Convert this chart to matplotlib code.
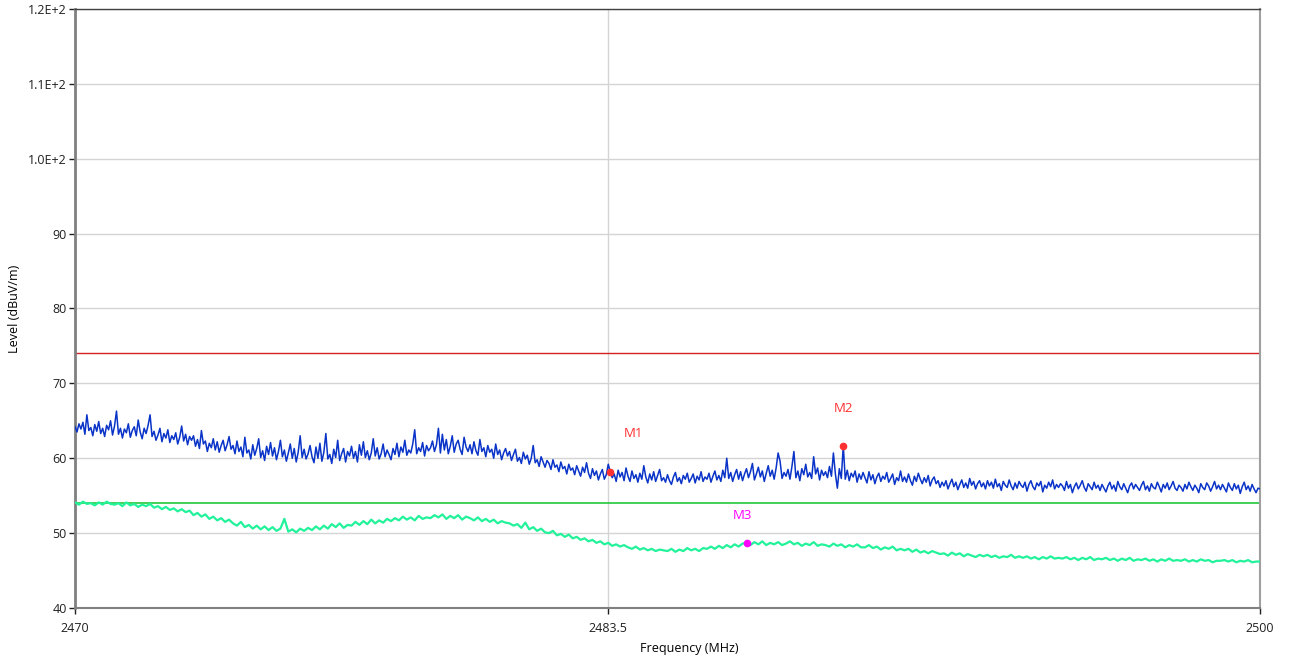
import numpy as np
import matplotlib as mpl
import matplotlib.pyplot as plt

mpl.use("Agg")

# peak trace, 0.05 MHz steps from 2470 to 2500 MHz (one row per MHz)
peak_level = [
    64.2, 63.5, 64.6, 63.9, 64.8, 63.2, 65.8, 63.7, 64.1, 63.0, 64.5, 63.6, 64.9, 63.3, 64.0, 62.9, 64.4, 63.8, 65.0, 63.1,
    64.3, 66.3, 63.2, 64.0, 62.7, 63.9, 63.4, 64.6, 62.8, 63.7, 64.2, 63.0, 65.1, 63.5, 62.6, 64.0, 63.3, 64.4, 65.8, 62.9,
    63.6, 62.4, 63.1, 64.0, 62.2, 63.3, 62.7, 63.8, 62.1, 63.0, 62.5, 63.4, 61.9, 62.8, 64.3, 62.3, 63.2, 61.8, 62.9, 62.4,
    63.0, 61.6, 62.5, 61.3, 63.7, 61.9, 62.3, 60.9, 62.0, 61.4, 62.6, 61.1, 62.2, 60.8, 61.7, 62.4, 61.0, 61.8, 62.9, 61.2,
    61.7, 60.6, 62.3, 60.9, 61.5, 60.2, 62.8, 60.7, 61.1, 59.9, 61.8, 60.4, 61.3, 62.6, 60.1, 61.0, 59.7, 61.6, 60.5, 62.1,
    60.3, 61.4, 59.8, 60.9, 62.4, 60.2, 61.1, 59.6, 60.7, 61.9, 60.0, 61.3, 59.5, 60.8, 63.0, 60.1, 61.2, 59.9, 60.6, 61.7,
    60.2, 59.4, 61.5, 60.0, 62.0, 59.6, 60.8, 63.3, 59.9, 60.5, 59.3, 61.2, 60.1, 62.4, 59.7, 60.6, 61.3, 59.5, 60.9, 60.3,
    61.6, 60.0, 60.9, 59.5, 61.8, 60.4, 62.2, 60.1, 61.0, 59.8, 60.7, 62.6, 60.3, 61.4, 59.9, 60.6, 61.9, 60.2, 61.1, 60.5,
    59.8, 61.3, 60.5, 62.0, 60.2, 61.5, 60.8, 62.4, 60.4, 61.1, 60.7, 61.9, 63.8, 60.6, 61.4, 60.9, 62.1, 60.3, 61.7, 61.0,
    61.4, 62.3, 60.9, 61.8, 64.0, 60.7, 63.2, 61.1, 62.5, 60.6, 61.6, 63.0, 60.8, 61.9, 62.4, 61.2, 60.5, 62.8, 61.5, 60.9,
    61.8, 60.6, 62.2, 61.0, 60.4, 62.5, 60.9, 61.4, 60.2, 61.7, 60.8, 61.2, 60.0, 61.9, 60.5, 61.1, 59.8, 60.7, 61.3, 60.3,
    60.9, 59.7, 60.5, 61.2, 59.6, 60.1, 59.3, 60.8, 59.9, 60.4, 59.2, 60.0, 61.7, 59.4, 59.8, 58.9, 60.2, 59.5, 58.8, 59.7,
    59.3, 58.5, 59.8, 58.8, 59.1, 58.2, 59.5, 58.6, 58.9, 57.9, 59.2, 58.4, 58.7, 57.8, 59.0, 58.3, 57.6, 58.8, 58.1, 59.4,
    58.0, 57.3, 58.6, 57.7, 58.3, 57.1, 57.9, 58.5, 57.2, 57.8, 59.2, 58.2, 57.4, 57.9, 56.9, 58.4, 57.5, 58.1, 57.0, 58.7,
    57.6, 56.9, 58.3, 57.3, 57.8, 56.8, 58.0, 57.2, 59.0, 57.5, 56.7, 57.9, 57.1, 58.2, 56.9, 57.7, 58.5, 57.0, 57.4, 56.8,
    57.8, 57.0, 56.5, 57.5, 58.1, 56.9, 57.4, 56.6, 57.7, 57.2, 58.0, 56.8, 57.3, 57.9, 56.7, 57.6, 57.1, 58.2, 56.9, 57.5,
    57.2, 58.0, 56.8, 57.6, 58.3, 57.1, 57.7, 56.9, 58.4, 57.4, 60.0, 57.3, 58.1, 56.9, 57.8, 58.5, 57.2, 58.2, 57.0, 57.9,
    58.6, 57.4, 58.2, 59.3, 57.1, 57.9, 58.8, 57.5, 58.3, 56.9, 58.0, 59.0, 57.6, 58.4, 57.2, 58.7, 60.7, 59.6, 57.3, 58.1,
    57.6, 58.5, 57.2, 58.9, 60.9, 57.4, 58.3, 57.0, 58.6, 57.8, 59.2, 57.5, 58.1, 57.3, 60.2, 57.9, 58.7, 57.1, 58.4, 57.7,
    58.2, 57.4, 58.9, 57.6, 60.7, 57.9, 56.0, 58.6, 57.3, 61.7, 57.2, 58.4, 57.0, 58.0, 57.5, 58.3, 56.8, 57.9, 57.2, 58.1,
    57.4, 56.7, 58.2, 57.1, 57.8, 56.6, 57.5, 58.0, 56.9, 57.6, 57.2, 58.1, 56.8, 57.3, 57.9, 56.5, 57.4, 57.0, 58.3, 56.9,
    57.5, 56.8, 57.9, 57.0, 56.4, 57.6, 56.9, 58.0, 57.2, 56.6, 57.4, 56.8, 57.7, 56.3, 57.1, 57.5, 56.6, 57.0, 56.1, 56.8,
    56.3, 57.0, 55.9, 56.6, 57.2, 56.2, 56.8, 55.8, 56.5, 57.1, 56.1, 56.7, 56.0, 57.3, 56.4, 56.9, 55.9, 56.6, 57.0, 56.2,
    56.7, 55.9, 57.0, 56.3, 56.8, 56.0, 57.2, 56.2, 56.6, 55.7, 56.9, 56.4, 56.1, 57.1, 56.3, 55.8, 56.7, 56.0, 56.9, 56.4,
    56.1, 56.8, 55.6, 56.5, 57.0, 56.2, 55.8, 56.7, 56.3, 56.9, 55.5, 56.4, 56.0, 56.8, 56.2, 57.1, 55.9, 56.5, 56.1, 56.6,
    56.3, 55.7, 56.9, 56.0, 56.5, 55.4, 56.2, 56.7, 55.9, 56.4, 57.0, 56.1, 55.6, 56.6, 56.2, 55.8, 56.8, 56.0, 56.4, 55.7,
    56.5, 56.0, 55.5, 56.3, 56.8, 55.9, 56.4, 55.6, 56.9, 56.2, 55.8, 56.6, 56.0, 55.4, 56.3, 56.7, 55.9, 56.5, 56.1, 55.7,
    56.4, 56.9, 55.8, 56.3, 55.6, 56.6, 56.1, 55.9, 56.8, 56.2, 55.5, 56.5, 56.0, 56.7, 55.8, 56.3, 56.9, 56.0, 55.7, 56.4,
    56.1, 55.6, 56.5, 55.9, 56.8, 56.2, 55.7, 56.4, 56.0, 55.4, 56.6, 56.1, 55.8, 56.7, 56.3, 55.6, 56.2, 56.9, 55.9, 56.4,
    55.8, 56.5, 56.0, 55.5, 56.7, 56.1, 55.7, 56.6, 55.9, 56.4, 55.3, 56.2, 56.8, 55.8, 56.3, 55.6, 56.5, 55.9, 55.4, 56.0,
    55.9,
]

# average trace, 0.1 MHz steps
avg_level = [
    54.1, 53.8, 54.2, 53.9, 54.0, 53.7, 54.1, 53.8, 54.2, 53.9,
    53.8, 54.0, 53.6, 54.1, 53.7, 53.9, 53.5, 53.8, 53.6, 53.9,
    53.4, 53.6, 53.2, 53.5, 53.1, 53.3, 52.9, 53.2, 52.8, 53.0,
    52.4, 52.7, 52.2, 52.5, 51.9, 52.2, 51.7, 52.0, 51.5, 51.8,
    51.3, 51.0, 51.5, 50.8, 51.1, 50.6, 51.0, 50.5, 50.9, 50.4,
    50.8, 50.3, 50.6, 51.9, 50.2, 50.5, 50.1, 50.6, 50.3, 50.7,
    50.4, 50.9, 50.5, 51.0, 50.6, 51.2, 50.8, 51.3, 50.7, 51.1,
    51.0, 51.5, 51.1, 51.6, 51.2, 51.8, 51.3, 51.7, 51.4, 51.9,
    51.6, 52.0, 51.7, 52.2, 51.8, 52.1, 51.7, 52.3, 51.9, 52.1,
    52.0, 52.4, 52.1, 52.5, 51.9, 52.3, 52.0, 52.4, 51.8, 52.2,
    52.0, 51.7, 52.1, 51.6, 51.9, 51.5, 51.8, 51.3, 51.6, 51.4,
    51.3, 51.0, 51.2, 50.7, 51.4, 50.5, 50.8, 50.3, 50.6, 50.1,
    50.0, 50.3, 49.7, 49.9, 49.5, 49.8, 49.3, 49.5, 49.1, 49.3,
    48.9, 49.1, 48.7, 48.9, 48.5, 48.7, 48.3, 48.5, 48.2, 48.4,
    48.1, 47.9, 48.2, 47.8, 48.0, 47.7, 47.9, 47.6, 47.8, 47.7,
    47.6, 47.9, 47.5, 47.8, 47.6, 48.0, 47.7, 47.9, 47.6, 48.0,
    47.9, 48.2, 47.9, 48.3, 48.0, 48.4, 48.1, 48.5, 48.2, 48.6,
    48.7, 48.4, 48.8, 48.5, 48.9, 48.4, 48.7, 48.5, 48.8, 48.4,
    48.6, 48.9, 48.5, 48.7, 48.3, 48.6, 48.4, 48.8, 48.3, 48.5,
    48.4, 48.2, 48.6, 48.3, 48.5, 48.1, 48.4, 48.2, 48.5, 48.1,
    48.1, 48.4, 48.0, 48.2, 47.8, 48.1, 47.9, 48.2, 47.7, 47.9,
    47.7, 47.9, 47.5, 47.8, 47.4, 47.6, 47.3, 47.6, 47.4, 47.2,
    47.3, 47.0, 47.4, 47.1, 47.3, 46.9, 47.2, 47.0, 46.8, 47.1,
    46.9, 47.1, 46.8, 47.0, 46.7, 46.9, 46.8, 47.1, 46.7, 46.9,
    46.7, 46.9, 46.6, 46.8, 46.5, 46.8, 46.6, 46.9, 46.6, 46.7,
    46.6, 46.8, 46.5, 46.7, 46.4, 46.7, 46.5, 46.8, 46.4, 46.6,
    46.5, 46.7, 46.4, 46.6, 46.3, 46.6, 46.4, 46.7, 46.3, 46.5,
    46.4, 46.6, 46.3, 46.5, 46.2, 46.5, 46.3, 46.6, 46.3, 46.4,
    46.3, 46.5, 46.2, 46.4, 46.2, 46.5, 46.3, 46.4, 46.1, 46.3,
    46.3, 46.4, 46.2, 46.4, 46.1, 46.3, 46.2, 46.4, 46.1, 46.2,
    46.2,
]

peak_limit = 74.0
avg_limit = 54.0

marker_names = ["M1", "M2", "M3"]
marker_freq = [2483.55, 2489.45, 2487.0]
marker_level = [58.2, 61.7, 48.7]
marker_colors = ["#ff3030", "#ff3030", "#ff00ff"]

x_ticks = [2470, 2483.5, 2500]
y_ticks = [40, 50, 60, 70, 80, 90, 100, 110, 120]
y_tick_labels = ["40", "50", "60", "70", "80", "90", "1.0E+2", "1.1E+2", "1.2E+2"]


def main():
    plt.rcParams["font.family"] = ["Open Sans", "DejaVu Sans"]

    fig = plt.figure(figsize=(12.89, 6.62), dpi=100)
    ax = fig.add_axes([0.0582, 0.0816, 0.9193, 0.9048])

    peak_freq = np.linspace(2470, 2500, len(peak_level))
    avg_freq = np.linspace(2470, 2500, len(avg_level))

    ax.plot(avg_freq, avg_level, color="#22f29a", lw=1.6, zorder=3)
    ax.plot(peak_freq, peak_level, color="#0a34c8", lw=1.1, zorder=4)
    ax.axhline(peak_limit, color="#d42020", lw=1.0, zorder=2)
    ax.axhline(avg_limit, color="#22c83a", lw=1.2, zorder=2)

    # label offsets in points, relative to each marker
    label_offsets = [(17, 25), (0, 24), (-3, 17)]
    for name, f, lvl, c, off in zip(marker_names, marker_freq, marker_level, marker_colors, label_offsets):
        ax.plot([f], [lvl], "o", color=c, ms=4.5, zorder=5)
        ax.annotate(name, (f, lvl), xytext=off, textcoords="offset points",
                    color=c, fontsize=9.5, ha="center")

    ax.set_xlim(2470, 2500)
    ax.set_ylim(40, 120)
    ax.set_xticks(x_ticks)
    ax.set_xticklabels(["2470", "2483.5", "2500"])
    ax.set_yticks(y_ticks)
    ax.set_yticklabels(y_tick_labels)
    ax.grid(True, color="#d4d4d4", lw=1.0, zorder=0)
    ax.set_axisbelow(True)
    ax.tick_params(axis="x", pad=6)
    ax.tick_params(direction="out", length=4, width=1, colors="#202020", labelsize=9)
    ax.tick_params(axis="y", pad=2)

    ax.spines["left"].set_color("#808080")
    ax.spines["left"].set_linewidth(2)
    ax.spines["bottom"].set_color("#808080")
    ax.spines["bottom"].set_linewidth(1.5)
    ax.spines["top"].set_color("#404040")
    ax.spines["top"].set_linewidth(1)
    ax.spines["right"].set_color("#a0a0a0")
    ax.spines["right"].set_linewidth(1.5)

    ax.set_xlabel("Frequency (MHz)", fontsize=9, va="center")
    ax.xaxis.set_label_coords(0.518, -0.068)
    ax.set_ylabel("Level (dBuV/m)", fontsize=9, va="center")
    ax.yaxis.set_label_coords(-0.051, 0.5)

    fig.savefig("out.png", dpi=100)
    plt.close(fig)


if __name__ == "__main__":
    main()
